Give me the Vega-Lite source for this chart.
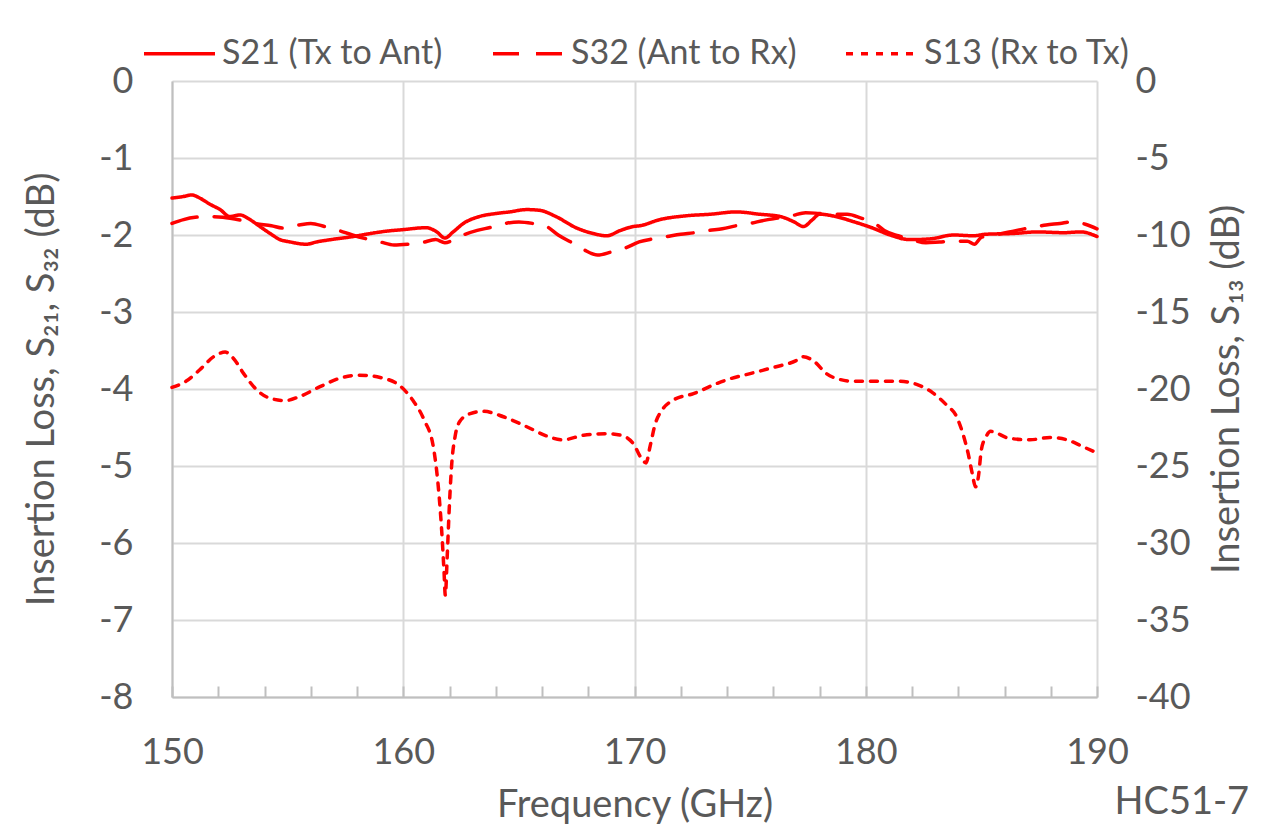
{
  "$schema": "https://vega.github.io/schema/vega-lite/v6.json",
  "width": 925,
  "height": 616,
  "autosize": "none",
  "padding": {"left": 172, "top": 81, "right": 165, "bottom": 130},
  "background": "white",
  "config": {"view": {"stroke": null}, "font": "Lato"},
  "title": {"text": "HC51-7", "orient": "bottom", "anchor": "end", "frame": "bounds", "fontSize": 38, "font": "Lato", "fontWeight": "normal", "color": "#595959", "offset": -40, "dx": 3},
  "datasets": {
    "left": [
      {"series": "S21 (Tx to Ant)", "freq": 150.0, "dB": -1.52},
      {"series": "S21 (Tx to Ant)", "freq": 150.5, "dB": -1.50},
      {"series": "S21 (Tx to Ant)", "freq": 150.85, "dB": -1.48},
      {"series": "S21 (Tx to Ant)", "freq": 151.2, "dB": -1.52},
      {"series": "S21 (Tx to Ant)", "freq": 151.64, "dB": -1.60},
      {"series": "S21 (Tx to Ant)", "freq": 152.08, "dB": -1.67},
      {"series": "S21 (Tx to Ant)", "freq": 152.5, "dB": -1.76},
      {"series": "S21 (Tx to Ant)", "freq": 152.94, "dB": -1.74},
      {"series": "S21 (Tx to Ant)", "freq": 153.37, "dB": -1.80},
      {"series": "S21 (Tx to Ant)", "freq": 153.8, "dB": -1.89},
      {"series": "S21 (Tx to Ant)", "freq": 154.24, "dB": -1.98},
      {"series": "S21 (Tx to Ant)", "freq": 154.67, "dB": -2.06},
      {"series": "S21 (Tx to Ant)", "freq": 155.1, "dB": -2.09},
      {"series": "S21 (Tx to Ant)", "freq": 155.8, "dB": -2.12},
      {"series": "S21 (Tx to Ant)", "freq": 156.26, "dB": -2.09},
      {"series": "S21 (Tx to Ant)", "freq": 157.1, "dB": -2.05},
      {"series": "S21 (Tx to Ant)", "freq": 157.84, "dB": -2.02},
      {"series": "S21 (Tx to Ant)", "freq": 158.4, "dB": -1.99},
      {"series": "S21 (Tx to Ant)", "freq": 159.28, "dB": -1.95},
      {"series": "S21 (Tx to Ant)", "freq": 160.0, "dB": -1.93},
      {"series": "S21 (Tx to Ant)", "freq": 161.0, "dB": -1.905},
      {"series": "S21 (Tx to Ant)", "freq": 161.45, "dB": -1.96},
      {"series": "S21 (Tx to Ant)", "freq": 161.8, "dB": -2.04},
      {"series": "S21 (Tx to Ant)", "freq": 162.16, "dB": -1.96},
      {"series": "S21 (Tx to Ant)", "freq": 162.6, "dB": -1.85},
      {"series": "S21 (Tx to Ant)", "freq": 163.3, "dB": -1.76},
      {"series": "S21 (Tx to Ant)", "freq": 164.04, "dB": -1.72},
      {"series": "S21 (Tx to Ant)", "freq": 164.6, "dB": -1.70},
      {"series": "S21 (Tx to Ant)", "freq": 165.34, "dB": -1.67},
      {"series": "S21 (Tx to Ant)", "freq": 165.9, "dB": -1.68},
      {"series": "S21 (Tx to Ant)", "freq": 166.6, "dB": -1.76},
      {"series": "S21 (Tx to Ant)", "freq": 167.5, "dB": -1.91},
      {"series": "S21 (Tx to Ant)", "freq": 168.2, "dB": -1.98},
      {"series": "S21 (Tx to Ant)", "freq": 168.8, "dB": -2.01},
      {"series": "S21 (Tx to Ant)", "freq": 169.4, "dB": -1.94},
      {"series": "S21 (Tx to Ant)", "freq": 169.95, "dB": -1.89},
      {"series": "S21 (Tx to Ant)", "freq": 170.24, "dB": -1.88},
      {"series": "S21 (Tx to Ant)", "freq": 171.1, "dB": -1.80},
      {"series": "S21 (Tx to Ant)", "freq": 172.26, "dB": -1.75},
      {"series": "S21 (Tx to Ant)", "freq": 173.3, "dB": -1.73},
      {"series": "S21 (Tx to Ant)", "freq": 174.4, "dB": -1.70},
      {"series": "S21 (Tx to Ant)", "freq": 175.4, "dB": -1.73},
      {"series": "S21 (Tx to Ant)", "freq": 176.3, "dB": -1.76},
      {"series": "S21 (Tx to Ant)", "freq": 176.9, "dB": -1.83},
      {"series": "S21 (Tx to Ant)", "freq": 177.3, "dB": -1.89},
      {"series": "S21 (Tx to Ant)", "freq": 177.7, "dB": -1.80},
      {"series": "S21 (Tx to Ant)", "freq": 178.0, "dB": -1.73},
      {"series": "S21 (Tx to Ant)", "freq": 178.7, "dB": -1.76},
      {"series": "S21 (Tx to Ant)", "freq": 179.5, "dB": -1.83},
      {"series": "S21 (Tx to Ant)", "freq": 180.3, "dB": -1.91},
      {"series": "S21 (Tx to Ant)", "freq": 181.05, "dB": -2.00},
      {"series": "S21 (Tx to Ant)", "freq": 181.9, "dB": -2.06},
      {"series": "S21 (Tx to Ant)", "freq": 182.8, "dB": -2.05},
      {"series": "S21 (Tx to Ant)", "freq": 183.8, "dB": -2.00},
      {"series": "S21 (Tx to Ant)", "freq": 184.65, "dB": -2.01},
      {"series": "S21 (Tx to Ant)", "freq": 185.2, "dB": -1.99},
      {"series": "S21 (Tx to Ant)", "freq": 186.4, "dB": -1.98},
      {"series": "S21 (Tx to Ant)", "freq": 187.4, "dB": -1.96},
      {"series": "S21 (Tx to Ant)", "freq": 188.55, "dB": -1.97},
      {"series": "S21 (Tx to Ant)", "freq": 189.3, "dB": -1.96},
      {"series": "S21 (Tx to Ant)", "freq": 190.0, "dB": -2.02},
      {"series": "S32 (Ant to Rx)", "freq": 150.0, "dB": -1.85},
      {"series": "S32 (Ant to Rx)", "freq": 150.5, "dB": -1.80},
      {"series": "S32 (Ant to Rx)", "freq": 151.0, "dB": -1.77},
      {"series": "S32 (Ant to Rx)", "freq": 151.6, "dB": -1.76},
      {"series": "S32 (Ant to Rx)", "freq": 152.2, "dB": -1.77},
      {"series": "S32 (Ant to Rx)", "freq": 153.0, "dB": -1.81},
      {"series": "S32 (Ant to Rx)", "freq": 153.6, "dB": -1.85},
      {"series": "S32 (Ant to Rx)", "freq": 154.3, "dB": -1.88},
      {"series": "S32 (Ant to Rx)", "freq": 154.8, "dB": -1.91},
      {"series": "S32 (Ant to Rx)", "freq": 155.5, "dB": -1.87},
      {"series": "S32 (Ant to Rx)", "freq": 156.0, "dB": -1.85},
      {"series": "S32 (Ant to Rx)", "freq": 156.6, "dB": -1.89},
      {"series": "S32 (Ant to Rx)", "freq": 157.2, "dB": -1.94},
      {"series": "S32 (Ant to Rx)", "freq": 157.8, "dB": -2.00},
      {"series": "S32 (Ant to Rx)", "freq": 158.4, "dB": -2.05},
      {"series": "S32 (Ant to Rx)", "freq": 159.0, "dB": -2.09},
      {"series": "S32 (Ant to Rx)", "freq": 159.6, "dB": -2.13},
      {"series": "S32 (Ant to Rx)", "freq": 160.2, "dB": -2.12},
      {"series": "S32 (Ant to Rx)", "freq": 160.8, "dB": -2.10},
      {"series": "S32 (Ant to Rx)", "freq": 161.4, "dB": -2.06},
      {"series": "S32 (Ant to Rx)", "freq": 161.8, "dB": -2.10},
      {"series": "S32 (Ant to Rx)", "freq": 162.2, "dB": -2.06},
      {"series": "S32 (Ant to Rx)", "freq": 162.6, "dB": -2.00},
      {"series": "S32 (Ant to Rx)", "freq": 163.2, "dB": -1.94},
      {"series": "S32 (Ant to Rx)", "freq": 163.8, "dB": -1.90},
      {"series": "S32 (Ant to Rx)", "freq": 164.4, "dB": -1.85},
      {"series": "S32 (Ant to Rx)", "freq": 165.0, "dB": -1.83},
      {"series": "S32 (Ant to Rx)", "freq": 165.6, "dB": -1.85},
      {"series": "S32 (Ant to Rx)", "freq": 166.2, "dB": -1.89},
      {"series": "S32 (Ant to Rx)", "freq": 166.7, "dB": -2.00},
      {"series": "S32 (Ant to Rx)", "freq": 167.3, "dB": -2.10},
      {"series": "S32 (Ant to Rx)", "freq": 167.8, "dB": -2.19},
      {"series": "S32 (Ant to Rx)", "freq": 168.4, "dB": -2.26},
      {"series": "S32 (Ant to Rx)", "freq": 169.0, "dB": -2.22},
      {"series": "S32 (Ant to Rx)", "freq": 169.6, "dB": -2.17},
      {"series": "S32 (Ant to Rx)", "freq": 170.2, "dB": -2.09},
      {"series": "S32 (Ant to Rx)", "freq": 170.8, "dB": -2.05},
      {"series": "S32 (Ant to Rx)", "freq": 171.4, "dB": -2.02},
      {"series": "S32 (Ant to Rx)", "freq": 172.0, "dB": -1.99},
      {"series": "S32 (Ant to Rx)", "freq": 172.6, "dB": -1.97},
      {"series": "S32 (Ant to Rx)", "freq": 173.2, "dB": -1.94},
      {"series": "S32 (Ant to Rx)", "freq": 173.8, "dB": -1.92},
      {"series": "S32 (Ant to Rx)", "freq": 174.4, "dB": -1.88},
      {"series": "S32 (Ant to Rx)", "freq": 175.0, "dB": -1.85},
      {"series": "S32 (Ant to Rx)", "freq": 175.6, "dB": -1.81},
      {"series": "S32 (Ant to Rx)", "freq": 176.2, "dB": -1.78},
      {"series": "S32 (Ant to Rx)", "freq": 176.8, "dB": -1.75},
      {"series": "S32 (Ant to Rx)", "freq": 177.4, "dB": -1.71},
      {"series": "S32 (Ant to Rx)", "freq": 178.0, "dB": -1.72},
      {"series": "S32 (Ant to Rx)", "freq": 178.6, "dB": -1.73},
      {"series": "S32 (Ant to Rx)", "freq": 179.2, "dB": -1.73},
      {"series": "S32 (Ant to Rx)", "freq": 179.8, "dB": -1.78},
      {"series": "S32 (Ant to Rx)", "freq": 180.4, "dB": -1.85},
      {"series": "S32 (Ant to Rx)", "freq": 180.8, "dB": -1.94},
      {"series": "S32 (Ant to Rx)", "freq": 181.4, "dB": -2.01},
      {"series": "S32 (Ant to Rx)", "freq": 182.0, "dB": -2.06},
      {"series": "S32 (Ant to Rx)", "freq": 182.6, "dB": -2.10},
      {"series": "S32 (Ant to Rx)", "freq": 183.2, "dB": -2.09},
      {"series": "S32 (Ant to Rx)", "freq": 183.8, "dB": -2.08},
      {"series": "S32 (Ant to Rx)", "freq": 184.4, "dB": -2.08},
      {"series": "S32 (Ant to Rx)", "freq": 184.7, "dB": -2.12},
      {"series": "S32 (Ant to Rx)", "freq": 185.0, "dB": -2.03},
      {"series": "S32 (Ant to Rx)", "freq": 185.6, "dB": -2.00},
      {"series": "S32 (Ant to Rx)", "freq": 186.2, "dB": -1.96},
      {"series": "S32 (Ant to Rx)", "freq": 186.7, "dB": -1.93},
      {"series": "S32 (Ant to Rx)", "freq": 187.2, "dB": -1.90},
      {"series": "S32 (Ant to Rx)", "freq": 187.8, "dB": -1.87},
      {"series": "S32 (Ant to Rx)", "freq": 188.4, "dB": -1.85},
      {"series": "S32 (Ant to Rx)", "freq": 188.9, "dB": -1.83},
      {"series": "S32 (Ant to Rx)", "freq": 189.5, "dB": -1.86},
      {"series": "S32 (Ant to Rx)", "freq": 190.0, "dB": -1.92}
    ],
    "right": [
      {"series": "S13 (Rx to Tx)", "freq": 150.0, "dB": -19.9},
      {"series": "S13 (Rx to Tx)", "freq": 150.6, "dB": -19.5},
      {"series": "S13 (Rx to Tx)", "freq": 151.2, "dB": -18.75},
      {"series": "S13 (Rx to Tx)", "freq": 151.8, "dB": -17.9},
      {"series": "S13 (Rx to Tx)", "freq": 152.3, "dB": -17.6},
      {"series": "S13 (Rx to Tx)", "freq": 152.65, "dB": -18.0},
      {"series": "S13 (Rx to Tx)", "freq": 153.1, "dB": -19.0},
      {"series": "S13 (Rx to Tx)", "freq": 153.66, "dB": -20.05},
      {"series": "S13 (Rx to Tx)", "freq": 154.24, "dB": -20.6},
      {"series": "S13 (Rx to Tx)", "freq": 154.9, "dB": -20.75},
      {"series": "S13 (Rx to Tx)", "freq": 155.5, "dB": -20.5},
      {"series": "S13 (Rx to Tx)", "freq": 156.4, "dB": -19.85},
      {"series": "S13 (Rx to Tx)", "freq": 157.26, "dB": -19.3},
      {"series": "S13 (Rx to Tx)", "freq": 158.1, "dB": -19.1},
      {"series": "S13 (Rx to Tx)", "freq": 159.0, "dB": -19.25},
      {"series": "S13 (Rx to Tx)", "freq": 159.9, "dB": -19.85},
      {"series": "S13 (Rx to Tx)", "freq": 160.4, "dB": -20.7},
      {"series": "S13 (Rx to Tx)", "freq": 160.9, "dB": -22.0},
      {"series": "S13 (Rx to Tx)", "freq": 161.3, "dB": -23.75},
      {"series": "S13 (Rx to Tx)", "freq": 161.5, "dB": -26.1},
      {"series": "S13 (Rx to Tx)", "freq": 161.66, "dB": -29.15},
      {"series": "S13 (Rx to Tx)", "freq": 161.76, "dB": -31.75},
      {"series": "S13 (Rx to Tx)", "freq": 161.82, "dB": -33.4},
      {"series": "S13 (Rx to Tx)", "freq": 161.9, "dB": -30.9},
      {"series": "S13 (Rx to Tx)", "freq": 162.0, "dB": -27.4},
      {"series": "S13 (Rx to Tx)", "freq": 162.1, "dB": -24.8},
      {"series": "S13 (Rx to Tx)", "freq": 162.24, "dB": -23.1},
      {"series": "S13 (Rx to Tx)", "freq": 162.45, "dB": -22.1},
      {"series": "S13 (Rx to Tx)", "freq": 162.9, "dB": -21.6},
      {"series": "S13 (Rx to Tx)", "freq": 163.46, "dB": -21.45},
      {"series": "S13 (Rx to Tx)", "freq": 164.33, "dB": -21.8},
      {"series": "S13 (Rx to Tx)", "freq": 165.34, "dB": -22.45},
      {"series": "S13 (Rx to Tx)", "freq": 166.2, "dB": -23.05},
      {"series": "S13 (Rx to Tx)", "freq": 166.9, "dB": -23.3},
      {"series": "S13 (Rx to Tx)", "freq": 167.8, "dB": -23.0},
      {"series": "S13 (Rx to Tx)", "freq": 168.8, "dB": -22.9},
      {"series": "S13 (Rx to Tx)", "freq": 169.4, "dB": -23.0},
      {"series": "S13 (Rx to Tx)", "freq": 169.95, "dB": -23.55},
      {"series": "S13 (Rx to Tx)", "freq": 170.3, "dB": -24.5},
      {"series": "S13 (Rx to Tx)", "freq": 170.5, "dB": -24.8},
      {"series": "S13 (Rx to Tx)", "freq": 170.67, "dB": -23.75},
      {"series": "S13 (Rx to Tx)", "freq": 170.9, "dB": -22.25},
      {"series": "S13 (Rx to Tx)", "freq": 171.2, "dB": -21.35},
      {"series": "S13 (Rx to Tx)", "freq": 171.7, "dB": -20.7},
      {"series": "S13 (Rx to Tx)", "freq": 172.55, "dB": -20.3},
      {"series": "S13 (Rx to Tx)", "freq": 173.55, "dB": -19.65},
      {"series": "S13 (Rx to Tx)", "freq": 174.0, "dB": -19.4},
      {"series": "S13 (Rx to Tx)", "freq": 175.0, "dB": -19.0},
      {"series": "S13 (Rx to Tx)", "freq": 176.0, "dB": -18.6},
      {"series": "S13 (Rx to Tx)", "freq": 177.0, "dB": -18.15},
      {"series": "S13 (Rx to Tx)", "freq": 177.3, "dB": -17.9},
      {"series": "S13 (Rx to Tx)", "freq": 177.8, "dB": -18.25},
      {"series": "S13 (Rx to Tx)", "freq": 178.3, "dB": -19.0},
      {"series": "S13 (Rx to Tx)", "freq": 178.8, "dB": -19.35},
      {"series": "S13 (Rx to Tx)", "freq": 179.5, "dB": -19.5},
      {"series": "S13 (Rx to Tx)", "freq": 180.5, "dB": -19.5},
      {"series": "S13 (Rx to Tx)", "freq": 181.5, "dB": -19.5},
      {"series": "S13 (Rx to Tx)", "freq": 182.2, "dB": -19.7},
      {"series": "S13 (Rx to Tx)", "freq": 182.9, "dB": -20.25},
      {"series": "S13 (Rx to Tx)", "freq": 183.5, "dB": -21.05},
      {"series": "S13 (Rx to Tx)", "freq": 183.93, "dB": -21.8},
      {"series": "S13 (Rx to Tx)", "freq": 184.2, "dB": -22.9},
      {"series": "S13 (Rx to Tx)", "freq": 184.43, "dB": -24.2},
      {"series": "S13 (Rx to Tx)", "freq": 184.6, "dB": -25.45},
      {"series": "S13 (Rx to Tx)", "freq": 184.75, "dB": -26.35},
      {"series": "S13 (Rx to Tx)", "freq": 184.87, "dB": -25.7},
      {"series": "S13 (Rx to Tx)", "freq": 185.0, "dB": -23.95},
      {"series": "S13 (Rx to Tx)", "freq": 185.2, "dB": -23.1},
      {"series": "S13 (Rx to Tx)", "freq": 185.4, "dB": -22.75},
      {"series": "S13 (Rx to Tx)", "freq": 186.2, "dB": -23.2},
      {"series": "S13 (Rx to Tx)", "freq": 187.1, "dB": -23.3},
      {"series": "S13 (Rx to Tx)", "freq": 187.96, "dB": -23.15},
      {"series": "S13 (Rx to Tx)", "freq": 188.7, "dB": -23.3},
      {"series": "S13 (Rx to Tx)", "freq": 189.4, "dB": -23.75},
      {"series": "S13 (Rx to Tx)", "freq": 190.0, "dB": -24.15}
    ]
  },
  "layer": [
    {
      "data": {"name": "left"},
      "mark": {"type": "line", "strokeWidth": 3.5, "strokeCap": "round", "interpolate": "monotone"},
      "encoding": {
        "x": {
          "field": "freq", "type": "quantitative",
          "scale": {"domain": [150, 190], "nice": false, "zero": false},
          "axis": {
            "title": "Frequency (GHz)",
            "values": [150, 152, 154, 156, 158, 160, 162, 164, 166, 168, 170, 172, 174, 176, 178, 180, 182, 184, 186, 188, 190],
            "labelExpr": "datum.value % 10 === 0 ? datum.label : ''",
            "labelOverlap": false, "labelFlush": false,
            "grid": true, "gridColor": "#d9d9d9", "gridWidth": 2,
            "gridOpacity": {"condition": {"test": "datum.value % 10 === 0", "value": 1}, "value": 0},
            "domainColor": "#bfbfbf", "domainWidth": 2,
            "ticks": true, "tickSize": -11, "tickColor": "#bfbfbf", "tickWidth": 2,
            "labelFont": "Lato", "labelFontSize": 36, "labelColor": "#595959", "labelPadding": 49,
            "titleFont": "Lato", "titleFontSize": 38, "titleFontWeight": "normal", "titleColor": "#595959", "titlePadding": 16
          }
        },
        "y": {
          "field": "dB", "type": "quantitative",
          "scale": {"domain": [-8, 0], "nice": false, "zero": false},
          "axis": {
            "title": "Insertion Loss, S₂₁, S₃₂ (dB)",
            "values": [-8, -7, -6, -5, -4, -3, -2, -1, 0],
            "labelExpr": "replace(datum.label, '−', '-')",
            "grid": true, "gridColor": "#d9d9d9", "gridWidth": 2,
            "domainColor": "#bfbfbf", "domainWidth": 2,
            "ticks": false,
            "labelFont": "Lato", "labelFontSize": 36, "labelColor": "#595959", "labelPadding": 39,
            "titleFont": "Lato", "titleFontSize": 38, "titleFontWeight": "normal", "titleColor": "#595959", "titlePadding": 37
          }
        },
        "color": {
          "field": "series", "type": "nominal",
          "scale": {"domain": ["S21 (Tx to Ant)", "S32 (Ant to Rx)", "S13 (Rx to Tx)"], "range": ["#ff0000", "#ff0000", "#ff0000"]},
          "legend": {
            "title": null, "orient": "none", "direction": "horizontal", "columns": 3,
            "legendX": -30, "legendY": -65,
            "symbolType": "stroke", "symbolSize": 5041, "symbolStrokeWidth": 3.5,
            "labelFont": "Lato", "labelFontSize": 34, "labelColor": "#595959", "labelOffset": 5, "labelLimit": 0,
            "columnPadding": 42, "padding": 0
          }
        },
        "strokeDash": {
          "field": "series", "type": "nominal",
          "scale": {"domain": ["S21 (Tx to Ant)", "S32 (Ant to Rx)", "S13 (Rx to Tx)"], "range": [[1, 0], [26, 17], [7, 8]]}
        }
      }
    },
    {
      "data": {"name": "right"},
      "mark": {"type": "line", "strokeWidth": 3.5, "strokeCap": "round", "interpolate": "monotone"},
      "encoding": {
        "x": {"field": "freq", "type": "quantitative"},
        "y": {
          "field": "dB", "type": "quantitative",
          "scale": {"domain": [-40, 0], "nice": false, "zero": false},
          "axis": {
            "orient": "right",
            "title": "Insertion Loss, S₁₃ (dB)",
            "values": [-40, -35, -30, -25, -20, -15, -10, -5, 0],
            "labelExpr": "replace(datum.label, '−', '-')",
            "grid": false, "domain": false, "ticks": false,
            "labelFont": "Lato", "labelFontSize": 36, "labelColor": "#595959", "labelPadding": 38,
            "titleFont": "Lato", "titleFontSize": 38, "titleFontWeight": "normal", "titleColor": "#595959",
            "titleAngle": 270, "titleBaseline": "top", "titlePadding": 18
          }
        },
        "color": {"field": "series", "type": "nominal"},
        "strokeDash": {"field": "series", "type": "nominal"}
      }
    }
  ],
  "resolve": {"scale": {"y": "independent"}}
}
